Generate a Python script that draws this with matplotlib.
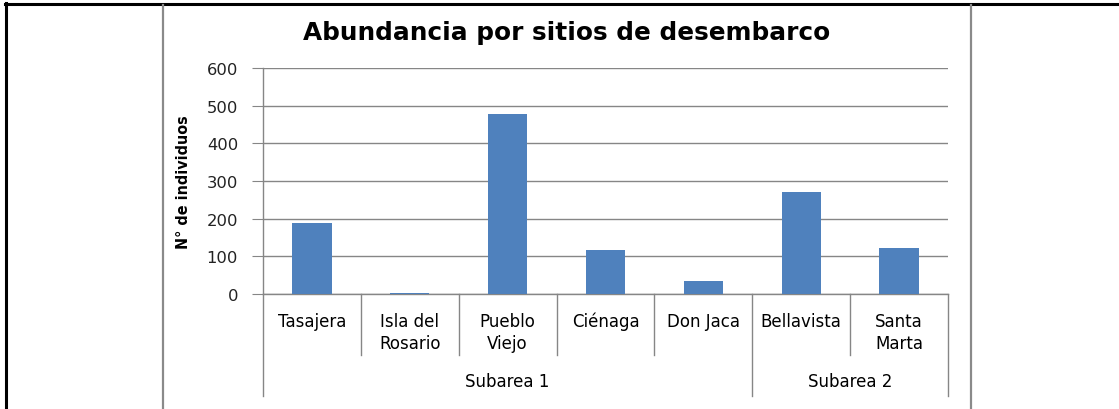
import matplotlib.pyplot as plt
from matplotlib.lines import Line2D
from matplotlib.transforms import blended_transform_factory

sitios = ['Tasajera', 'Isla del\nRosario', 'Pueblo\nViejo', 'Ciénaga',
          'Don Jaca', 'Bellavista', 'Santa\nMarta']
individuos = [188, 3, 479, 116, 34, 272, 123]
subareas = ['Subarea 1', 'Subarea 2']
subarea_n = [5, 2]
yticks = [0, 100, 200, 300, 400, 500, 600]

W, H = 1119, 410
fig = plt.figure(figsize=(W / 100, H / 100), dpi=100)
ax = fig.add_axes([263 / W, 115 / H, 685 / W, 226 / H])

bar_color = '#4F81BD'
grid_color = '#868686'

x = list(range(len(sitios)))
ax.bar(x, individuos, width=0.4, color=bar_color, zorder=3)
ax.set_xlim(-0.5, len(sitios) - 0.5)
ax.set_ylim(0, 600)
ax.set_yticks(yticks)
ax.set_yticklabels([str(v) for v in yticks], fontsize=11.8, color='#222222')
ax.yaxis.grid(True, color=grid_color, linewidth=1)
ax.set_axisbelow(True)
ax.set_xticks([])
ax.tick_params(axis='y', length=8, color=grid_color, pad=10)
for s in ['top', 'right']:
    ax.spines[s].set_visible(False)
for s in ['left', 'bottom']:
    ax.spines[s].set_color(grid_color)
    ax.spines[s].set_linewidth(1)

# titulo centrado en el area del grafico
fig.text(566.5 / W, 1 - 33 / H, 'Abundancia por sitios de desembarco',
         fontsize=17.8, fontweight='bold', ha='center', va='center')
ax.set_ylabel('N° de individuos', fontsize=11.5, fontweight='bold',
              fontstretch='condensed', labelpad=11)

tr = blended_transform_factory(ax.transData, ax.transAxes)
short_y = -61 / 226
long_y = -102 / 226

# divisores de categorias y de subareas
bounds = [-0.5]
for n in subarea_n:
    bounds.append(bounds[-1] + n)
for i in range(len(sitios) + 1):
    xb = i - 0.5
    y_end = long_y if xb in bounds else short_y
    ax.plot([xb, xb], [0, y_end], color=grid_color, linewidth=1,
            transform=tr, clip_on=False)

for i, s in enumerate(sitios):
    ax.text(i, -18 / 226, s, transform=tr, ha='center', va='top',
            fontsize=12, linespacing=1.3)

for j, name in enumerate(subareas):
    xc = (bounds[j] + bounds[j + 1]) / 2
    ax.text(xc, -87 / 226, name, transform=tr, ha='center', va='center',
            fontsize=12)

# marco exterior (tabla)
def px_line(x0, y0, x1, y1, color, lw):
    fig.add_artist(Line2D([x0 / W, x1 / W], [1 - y0 / H, 1 - y1 / H],
                          color=color, linewidth=lw, transform=fig.transFigure))

px_line(5, 4.5, W, 4.5, 'black', 2.2)
px_line(5.5, 4, 5.5, H, 'black', 2.2)
px_line(163.5, 6, 163.5, H, '#8a8a8a', 1.6)
px_line(970.5, 6, 970.5, H, '#8a8a8a', 1.6)

fig.savefig('out.png', dpi=100)
